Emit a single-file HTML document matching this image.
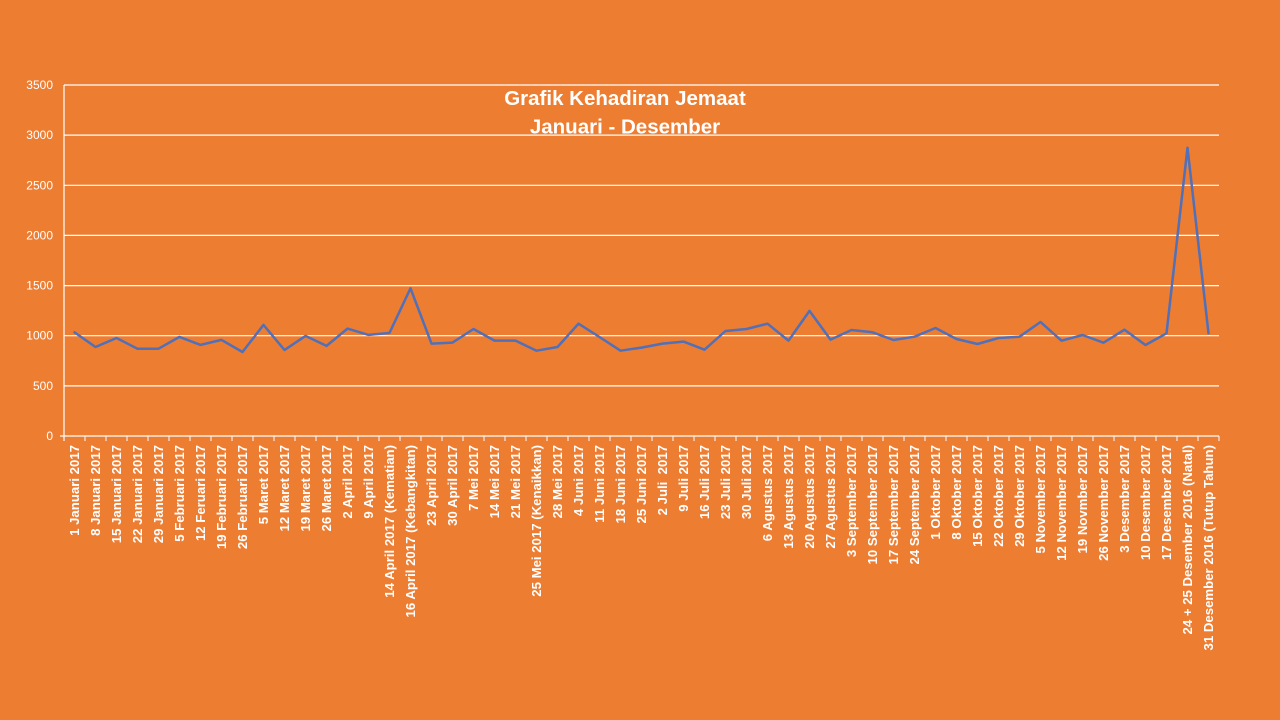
<!DOCTYPE html>
<html>
<head>
<meta charset="utf-8">
<style>
html,body{margin:0;padding:0;background:#ED7D31;}
svg{display:block;}
</style>
</head>
<body>
<svg width="1280" height="720" viewBox="0 0 1280 720" xmlns="http://www.w3.org/2000/svg">
<rect x="0" y="0" width="1280" height="720" fill="#ED7D31"/>
<!-- gridlines -->
<g stroke="#FFFFFF" stroke-width="1.2">
<line x1="64" y1="85" x2="1219" y2="85"/>
<line x1="64" y1="135.1" x2="1219" y2="135.1"/>
<line x1="64" y1="185.3" x2="1219" y2="185.3"/>
<line x1="64" y1="235.4" x2="1219" y2="235.4"/>
<line x1="64" y1="285.6" x2="1219" y2="285.6"/>
<line x1="64" y1="335.7" x2="1219" y2="335.7"/>
<line x1="64" y1="385.9" x2="1219" y2="385.9"/>
<line x1="60" y1="436" x2="1219" y2="436"/>
<line x1="64" y1="85" x2="64" y2="441"/>
</g>
<!-- x ticks -->
<g stroke="#FFFFFF" stroke-width="1">
<path d="M85 436v5M106 436v5M127 436v5M148 436v5M169 436v5M190 436v5M211 436v5M232 436v5M253 436v5M274 436v5M295 436v5M316 436v5M337 436v5M358 436v5M379 436v5M400 436v5M421 436v5M442 436v5M463 436v5M484 436v5M505 436v5M526 436v5M547 436v5M568 436v5M589 436v5M610 436v5M631 436v5M652 436v5M673 436v5M694 436v5M715 436v5M736 436v5M757 436v5M778 436v5M799 436v5M820 436v5M841 436v5M862 436v5M883 436v5M904 436v5M925 436v5M946 436v5M967 436v5M988 436v5M1009 436v5M1030 436v5M1051 436v5M1072 436v5M1093 436v5M1114 436v5M1135 436v5M1156 436v5M1177 436v5M1198 436v5M1219 436v5"/>
</g>
<!-- y labels -->
<g font-family="Liberation Sans, Arial, sans-serif" font-size="12" fill="#FFFFFF" text-anchor="end">
<text x="53" y="89">3500</text>
<text x="53" y="139.1">3000</text>
<text x="53" y="189.3">2500</text>
<text x="53" y="239.4">2000</text>
<text x="53" y="289.6">1500</text>
<text x="53" y="339.7">1000</text>
<text x="53" y="389.9">500</text>
<text x="53" y="440">0</text>
</g>
<!-- title -->
<g font-family="Liberation Sans, Arial, sans-serif" font-size="20.5" font-weight="bold" fill="#FFFFFF" text-anchor="middle">
<text x="625" y="105">Grafik Kehadiran Jemaat</text>
<text x="625" y="133.5">Januari - Desember</text>
</g>
<!-- data line -->
<polyline fill="none" stroke="#5070BA" stroke-width="2.5" stroke-linejoin="round" stroke-linecap="round"
points="74.5,332.3 95.5,347.0 116.5,338.0 137.5,348.7 158.5,348.7 179.5,336.9 200.5,344.9 221.5,339.9 242.5,352.0 263.5,324.9 284.5,350.0 305.5,335.9 326.5,345.9 347.5,328.6 368.5,334.9 389.5,332.9 410.5,288.3 431.5,343.6 452.5,342.6 473.5,329.0 494.5,340.6 515.5,340.6 536.5,350.7 557.5,347.0 578.5,323.7 599.5,337.0 620.5,350.7 641.5,347.6 662.5,343.6 683.5,341.6 704.5,349.7 725.5,331.0 746.5,329.0 767.5,323.7 788.5,340.6 809.5,310.9 830.5,339.6 851.5,330.0 872.5,332.3 893.5,340.0 914.5,336.7 935.5,328.0 956.5,339.0 977.5,344.0 998.5,338.0 1019.5,336.7 1040.5,322.0 1061.5,340.7 1082.5,335.0 1103.5,342.7 1124.5,329.7 1145.5,345.0 1166.5,333.3 1187.5,147.7 1208.5,333.3"/>
<!-- x labels -->
<g font-family="Liberation Sans, Arial, sans-serif" font-size="13.2" font-weight="bold" fill="#FFFFFF" text-anchor="end">
<text transform="translate(79,445) rotate(-90)">1 Januari 2017</text>
<text transform="translate(100,445) rotate(-90)">8 Januari 2017</text>
<text transform="translate(121,445) rotate(-90)">15 Januari 2017</text>
<text transform="translate(142,445) rotate(-90)">22 Januari 2017</text>
<text transform="translate(163,445) rotate(-90)">29 Januari 2017</text>
<text transform="translate(184,445) rotate(-90)">5 Februari 2017</text>
<text transform="translate(205,445) rotate(-90)">12 Feruari 2017</text>
<text transform="translate(226,445) rotate(-90)">19 Februari 2017</text>
<text transform="translate(247,445) rotate(-90)">26 Februari 2017</text>
<text transform="translate(268,445) rotate(-90)">5 Maret 2017</text>
<text transform="translate(289,445) rotate(-90)">12 Maret 2017</text>
<text transform="translate(310,445) rotate(-90)">19 Maret 2017</text>
<text transform="translate(331,445) rotate(-90)">26 Maret 2017</text>
<text transform="translate(352,445) rotate(-90)">2 April 2017</text>
<text transform="translate(373,445) rotate(-90)">9 April 2017</text>
<text transform="translate(394,445) rotate(-90)">14 April 2017 (Kematian)</text>
<text transform="translate(415,445) rotate(-90)">16 April 2017 (Kebangkitan)</text>
<text transform="translate(436,445) rotate(-90)">23 April 2017</text>
<text transform="translate(457,445) rotate(-90)">30 April 2017</text>
<text transform="translate(478,445) rotate(-90)">7 Mei 2017</text>
<text transform="translate(499,445) rotate(-90)">14 Mei 2017</text>
<text transform="translate(520,445) rotate(-90)">21 Mei 2017</text>
<text transform="translate(541,445) rotate(-90)">25 Mei 2017 (Kenaikkan)</text>
<text transform="translate(562,445) rotate(-90)">28 Mei 2017</text>
<text transform="translate(583,445) rotate(-90)">4 Juni 2017</text>
<text transform="translate(604,445) rotate(-90)">11 Juni 2017</text>
<text transform="translate(625,445) rotate(-90)">18 Juni 2017</text>
<text transform="translate(646,445) rotate(-90)">25 Juni 2017</text>
<text transform="translate(667,445) rotate(-90)">2 Juli&#160; 2017</text>
<text transform="translate(688,445) rotate(-90)">9 Juli 2017</text>
<text transform="translate(709,445) rotate(-90)">16 Juli 2017</text>
<text transform="translate(730,445) rotate(-90)">23 Juli 2017</text>
<text transform="translate(751,445) rotate(-90)">30 Juli 2017</text>
<text transform="translate(772,445) rotate(-90)">6 Agustus 2017</text>
<text transform="translate(793,445) rotate(-90)">13 Agustus 2017</text>
<text transform="translate(814,445) rotate(-90)">20 Agustus 2017</text>
<text transform="translate(835,445) rotate(-90)">27 Agustus 2017</text>
<text transform="translate(856,445) rotate(-90)">3 September 2017</text>
<text transform="translate(877,445) rotate(-90)">10 September 2017</text>
<text transform="translate(898,445) rotate(-90)">17 September 2017</text>
<text transform="translate(919,445) rotate(-90)">24 September 2017</text>
<text transform="translate(940,445) rotate(-90)">1 Oktober 2017</text>
<text transform="translate(961,445) rotate(-90)">8 Oktober 2017</text>
<text transform="translate(982,445) rotate(-90)">15 Oktober 2017</text>
<text transform="translate(1003,445) rotate(-90)">22 Oktober 2017</text>
<text transform="translate(1024,445) rotate(-90)">29 Oktober 2017</text>
<text transform="translate(1045,445) rotate(-90)">5 November 2017</text>
<text transform="translate(1066,445) rotate(-90)">12 November 2017</text>
<text transform="translate(1087,445) rotate(-90)">19 Novmber 2017</text>
<text transform="translate(1108,445) rotate(-90)">26 November 2017</text>
<text transform="translate(1129,445) rotate(-90)">3 Desember 2017</text>
<text transform="translate(1150,445) rotate(-90)">10 Desember 2017</text>
<text transform="translate(1171,445) rotate(-90)">17 Desember 2017</text>
<text transform="translate(1192,445) rotate(-90)">24 + 25 Desember 2016 (Natal)</text>
<text transform="translate(1213,445) rotate(-90)">31 Desember 2016 (Tutup Tahun)</text>
</g>
</svg>
</body>
</html>
